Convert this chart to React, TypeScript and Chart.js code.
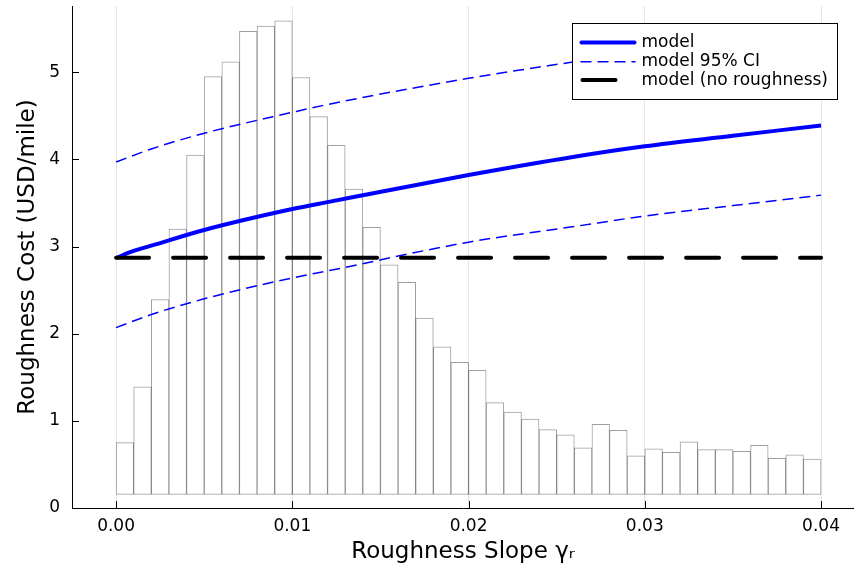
import React, { useEffect, useRef } from "react";
import { Chart, registerables } from "chart.js";

Chart.register(...registerables);

// Histogram: bin left edges (width 0.001) and bar tops; bars start at a floor value
const binStarts = [
  0, 0.001, 0.002, 0.003, 0.004, 0.005, 0.006, 0.007, 0.008, 0.009,
  0.010, 0.011, 0.012, 0.013, 0.014, 0.015, 0.016, 0.017, 0.018, 0.019,
  0.020, 0.021, 0.022, 0.023, 0.024, 0.025, 0.026, 0.027, 0.028, 0.029,
  0.030, 0.031, 0.032, 0.033, 0.034, 0.035, 0.036, 0.037, 0.038, 0.039,
];
const binWidth = 0.001;
const histBase = 0.157;
const histTops = [
  0.75, 1.39, 2.39, 3.20, 4.05, 4.95, 5.12, 5.47, 5.53, 5.59,
  4.94, 4.49, 4.16, 3.66, 3.22, 2.79, 2.59, 2.18, 1.85, 1.67,
  1.58, 1.21, 1.10, 1.02, 0.90, 0.84, 0.69, 0.96, 0.89, 0.60,
  0.68, 0.64, 0.76, 0.67, 0.67, 0.65, 0.72, 0.57, 0.61, 0.56,
];

// Model curves
const modelX = [0, 0.001, 0.002, 0.005, 0.01, 0.012, 0.02, 0.026, 0.03, 0.035, 0.04];
const modelY = [2.87, 2.95, 3.01, 3.19, 3.43, 3.51, 3.82, 4.03, 4.15, 4.27, 4.39];
const ciX = [0, 0.002, 0.005, 0.01, 0.012, 0.02, 0.026, 0.03, 0.035, 0.04];
const ciUpper = [3.97, 4.12, 4.30, 4.54, 4.63, 4.93, 5.12, 5.24, 5.37, 5.49];
const ciLower = [2.07, 2.22, 2.40, 2.64, 2.72, 3.05, 3.23, 3.35, 3.47, 3.59];
const noRoughX = [0, 0.04];
const noRoughY = [2.87, 2.87];

const xTicks = [0, 0.01, 0.02, 0.03, 0.04];
const yTicks = [0, 1, 2, 3, 4, 5];

const legendLabels = ["model", "model 95% CI", "model (no roughness)"];

const FONT = "'DejaVu Sans', sans-serif";

const innerTicks = {
  id: "innerTicks",
  afterDraw(chart: any) {
    const { ctx, chartArea, scales } = chart;
    ctx.save();
    ctx.strokeStyle = "#000";
    ctx.lineWidth = 1;
    ctx.beginPath();
    for (const v of xTicks) {
      const px = Math.round(scales.x.getPixelForValue(v)) + 0.5;
      ctx.moveTo(px, chartArea.bottom);
      ctx.lineTo(px, chartArea.bottom - 7);
    }
    for (const v of yTicks) {
      const py = Math.round(scales.y.getPixelForValue(v)) + 0.5;
      ctx.moveTo(chartArea.left, py);
      ctx.lineTo(chartArea.left + 7, py);
    }
    ctx.stroke();
    ctx.restore();
  },
};

const boxLegend = {
  id: "boxLegend",
  afterDraw(chart: any) {
    const { ctx, chartArea } = chart;
    const x0 = chartArea.right - 281.5;
    const y0 = chartArea.top + 17.5;
    const w = 265;
    const h = 76;
    ctx.save();
    ctx.fillStyle = "#fff";
    ctx.fillRect(x0, y0, w, h);
    ctx.strokeStyle = "#000";
    ctx.lineWidth = 1;
    ctx.strokeRect(x0, y0, w, h);
    const rows = [y0 + 19, y0 + 38.3, y0 + 56.6];
    const lx0 = x0 + 8;
    const lx1 = x0 + 63;
    // model
    ctx.strokeStyle = "#0000ff";
    ctx.lineWidth = 4;
    ctx.lineCap = "round";
    ctx.setLineDash([]);
    ctx.beginPath();
    ctx.moveTo(lx0 + 1, rows[0]);
    ctx.lineTo(lx1 - 1, rows[0]);
    ctx.stroke();
    // CI
    ctx.lineWidth = 1.5;
    ctx.lineCap = "butt";
    ctx.setLineDash([11, 6]);
    ctx.beginPath();
    ctx.moveTo(lx0, rows[1]);
    ctx.lineTo(lx1, rows[1]);
    ctx.stroke();
    // no roughness
    ctx.strokeStyle = "#000";
    ctx.lineWidth = 4;
    ctx.lineCap = "round";
    ctx.setLineDash([33, 24]);
    ctx.beginPath();
    ctx.moveTo(lx0 + 2, rows[2]);
    ctx.lineTo(lx1, rows[2]);
    ctx.stroke();
    ctx.setLineDash([]);
    ctx.fillStyle = "#000";
    ctx.font = `17px ${FONT}`;
    ctx.textBaseline = "middle";
    ctx.textAlign = "left";
    legendLabels.forEach((t, i) => ctx.fillText(t, x0 + 69, rows[i]));
    ctx.restore();
  },
};

export default function App() {
  const ref = useRef<HTMLCanvasElement | null>(null);
  useEffect(() => {
    document.body.style.margin = "0";
    const canvas = ref.current;
    if (!canvas) return;
    const histData = binStarts.map((s, i) => ({ x: s + binWidth / 2, y: [histBase, histTops[i]] }));
    const chart = new Chart(canvas, {
      type: "line",
      data: {
        datasets: [
          {
            type: "bar",
            label: "hist",
            data: histData as any,
            backgroundColor: "#ffffff",
            borderColor: "rgba(0,0,0,0.38)",
            borderWidth: 1,
            borderSkipped: false,
            barPercentage: 1,
            categoryPercentage: 1,
            order: 10,
          } as any,
          {
            label: "model",
            data: modelX.map((x, i) => ({ x, y: modelY[i] })),
            borderColor: "#0000ff",
            borderWidth: 4,
            pointRadius: 0,
            cubicInterpolationMode: "monotone",
            order: 4,
          },
          {
            label: "model 95% CI",
            data: ciX.map((x, i) => ({ x, y: ciUpper[i] })),
            borderColor: "#0000ff",
            borderWidth: 1.5,
            borderDash: [11, 6],
            pointRadius: 0,
            cubicInterpolationMode: "monotone",
            order: 3,
          },
          {
            label: "model 95% CI lower",
            data: ciX.map((x, i) => ({ x, y: ciLower[i] })),
            borderColor: "#0000ff",
            borderWidth: 1.5,
            borderDash: [11, 6],
            pointRadius: 0,
            cubicInterpolationMode: "monotone",
            order: 3,
          },
          {
            label: "model (no roughness)",
            data: noRoughX.map((x, i) => ({ x, y: noRoughY[i] })),
            borderColor: "#000000",
            borderWidth: 4,
            borderDash: [33, 24],
            borderCapStyle: "round",
            pointRadius: 0,
            order: 1,
          },
        ],
      },
      options: {
        animation: false,
        responsive: false,
        events: [],
        layout: { padding: { top: 6, right: 0, left: 0, bottom: 0 } },
        plugins: {
          legend: { display: false },
          tooltip: { enabled: false },
        },
        scales: {
          x: {
            type: "linear",
            min: -0.0025,
            max: 0.04187,
            offset: false,
            afterFit: (s: any) => {
              s.height = 61;
              s.paddingLeft = 0;
              s.paddingRight = 0;
            },
            afterBuildTicks: (s: any) => {
              s.ticks = xTicks.map((v) => ({ value: v }));
            },
            grid: {
              display: true,
              offset: false,
              color: "rgba(0,0,0,0.1)",
              lineWidth: 1,
              drawTicks: false,
            },
            border: { display: true, color: "#000", width: 1 },
            ticks: {
              padding: 8,
              color: "#000",
              font: { family: FONT, size: 17 },
              maxRotation: 0,
              callback: (v: any) => Number(v).toFixed(2),
            },
            title: {
              display: true,
              text: "Roughness Slope γᵣ",
              color: "#000",
              font: { family: FONT, size: 23 },
              padding: { top: 0, bottom: 3 },
            },
          },
          y: {
            type: "linear",
            min: 0,
            max: 5.76,
            afterFit: (s: any) => {
              s.width = 72;
              s.paddingTop = 0;
              s.paddingBottom = 0;
            },
            afterBuildTicks: (s: any) => {
              s.ticks = yTicks.map((v) => ({ value: v }));
            },
            grid: { display: false, drawTicks: false },
            border: { display: true, color: "#000", width: 1 },
            ticks: {
              padding: 12,
              color: "#000",
              font: { family: FONT, size: 17 },
              callback: (v: any) => String(v),
            },
            title: {
              display: true,
              text: "Roughness Cost (USD/mile)",
              color: "#000",
              font: { family: FONT, size: 23 },
              padding: { top: 14, bottom: 0 },
            },
          },
        },
      },
      plugins: [innerTicks, boxLegend],
    });
    return () => chart.destroy();
  }, []);
  return (
    <canvas ref={ref} width={854} height={569} style={{ display: "block" }} />
  );
}
